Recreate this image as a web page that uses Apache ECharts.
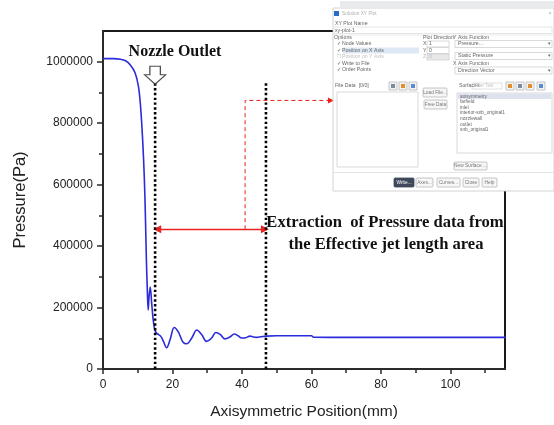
<!DOCTYPE html>
<html>
<head>
<meta charset="utf-8">
<style>
  html, body { margin: 0; padding: 0; background: #fff; }
  #chart { width: 554px; height: 425px; }
</style>
<script src="https://cdn.jsdelivr.net/npm/echarts@6/dist/echarts.min.js"></script>
</head>
<body>
<div id="chart"></div>
<script>
// Axial pressure profile along the jet axis (mm, Pa)
const positionMm = [0, 3, 5, 6.5, 7.8, 9.2, 10.2, 10.8, 11.4, 11.9, 12.2, 12.5, 12.75, 13.0, 13.25,
  13.6, 14.0, 14.4, 14.8, 15.3, 16.0, 16.6, 17.4, 18.3, 19.3, 20.5, 21.7, 23.0, 24.1, 25.5,
  27.0, 28.4, 29.8, 31.2, 32.5, 33.8, 35.1, 36.5, 37.8, 38.9, 39.9, 41.1, 42.3, 43.3, 44.2,
  45.5, 47, 50, 55, 60, 60.6, 70, 80, 90, 100, 110, 116];
const pressurePa = [1010000, 1010000, 1008000, 1003000, 990000, 965000, 920000, 856000, 748000, 619000, 500000, 350000, 260000, 192000, 235000,
  267000, 215000, 165000, 133000, 118000, 112000, 107000, 90000, 69000, 95000, 135000, 120000, 88000, 82000, 100000,
  127000, 112000, 90000, 100000, 119000, 112000, 98000, 104000, 114000, 108000, 101000, 102000, 107000, 104000, 103000,
  105000, 107000, 108000, 108000, 108000, 103500, 103000, 103000, 103000, 103000, 103000, 103000];

// Axis ticks
const xMajorTicks = [0, 20, 40, 60, 80, 100];
const xMinorTicks = [10, 30, 50, 70, 90, 110];
const yMajorTicks = [0, 200000, 400000, 600000, 800000, 1000000];
const yMinorTicks = [100000, 300000, 500000, 700000, 900000];
const xRange = [0, 115.7];
const yRange = [0, 1100000];

// Annotation positions (data units)
const nozzleOutletX = 15;
const jetEndX = 46.9;
const guideTopY = 930000;
const nozzleArrowY = 956000;
const spanArrowY = 455000;
const spanArrowX = [15.6, 46.6];
const calloutX = 40.9;
const calloutTopY = 874000;
const calloutEndX = 65.6;

const chart = echarts.init(document.getElementById('chart'));

const axisColor = '#2a2a2a';
const labelFont = { fontFamily: 'Liberation Sans', fontSize: 12, color: '#222' };

function valueAxis(dim, extra) {
  return Object.assign({
    type: 'value',
    min: dim === 'x' ? xRange[0] : yRange[0],
    max: dim === 'x' ? xRange[1] : yRange[1],
    splitLine: { show: false },
    axisLine: { show: true, lineStyle: { color: axisColor, width: 2 } }
  }, extra);
}

// Small dialog panel drawn with graphic primitives
const UI_FONT = 'Liberation Sans';
const ui = [];
function uRect(x, y, w, h, fill, stroke, extra) {
  ui.push(Object.assign({ type: 'rect', shape: { x, y, width: w, height: h },
    style: { fill: fill || 'none', stroke: stroke || null, lineWidth: 0.8 }, z: 100, silent: true }, extra || {}));
}
function uText(x, y, t, opts) {
  opts = opts || {};
  ui.push({ type: 'text', z: 101, silent: true,
    style: { text: t, x, y, fill: opts.color || '#666', font: (opts.weight || 'normal') + ' ' + (opts.size || 5.2) + 'px "' + UI_FONT + '"',
      align: opts.align || 'left', verticalAlign: 'middle' } });
}
function uLine(x1, y1, x2, y2, color) {
  ui.push({ type: 'line', z: 100, silent: true, shape: { x1, y1, x2, y2 }, style: { stroke: color || '#ddd', lineWidth: 0.8 } });
}
function uButton(x, y, w, h, t, dark) {
  uRect(x, y, w, h, dark ? '#3e4a5c' : '#f6f6f6', dark ? '#3e4a5c' : '#b8b8b8', { shape: { x, y, width: w, height: h, r: 1 } });
  uText(x + w / 2, y + h / 2, t, { align: 'center', color: dark ? '#fff' : '#777', size: 4.8 });
}
function uIcon(x, y, c) {
  uRect(x, y, 8, 8, '#f3f3f3', '#b8b8b8');
  uRect(x + 2, y + 2, 4, 4, c, null);
}
function uDrop(x, y, w, t) {
  uRect(x, y, w, 7, '#fff', '#cfcfcf');
  uText(x + 3, y + 3.5, t);
  uText(x + w - 3, y + 3.5, '▾', { align: 'center', size: 4.5 });
}

// window frame
uRect(340, 1, 214, 6, '#d6dae0', null, { style: { fill: '#d6dae0', opacity: 0.55 } });
uRect(333, 8, 221, 183, '#ffffff', '#c9c9c9');
uRect(334, 11, 5, 5, '#2b6cc4', null);
uText(342, 13.5, 'Solution XY Plot', { color: '#b0b0b0', size: 4.8 });
uText(550, 13.5, '×', { color: '#aaa', size: 5, align: 'center' });
uText(335, 24, 'XY Plot Name');
uRect(334, 27, 218, 6.5, '#fff', '#e0e0e0');
uText(335, 30.3, 'xy-plot-1');
uLine(333, 35, 554, 35, '#e4e4e4');

// options column
uText(334, 38, 'Options');
uRect(343, 47.5, 76, 6, '#dde8f5', null);
const optionRows = [['Node Values', true, 44], ['Position on X Axis', true, 50.5], ['Position on Y Axis', false, 57], ['Write to File', true, 63.5], ['Order Points', true, 70]];
optionRows.forEach(([t, on, y]) => {
  uText(337, y, on ? '✓' : '☐', { color: on ? '#555' : '#c8c8c8', size: 4.8 });
  uText(342, y, t, { color: on ? '#666' : '#c0c0c0' });
});

// plot direction
uText(423, 38, 'Plot Direction');
[['X', '1', 44, false], ['Y', '0', 50.5, false], ['Z', '0', 57, true]].forEach(([a, v, y, dis]) => {
  uText(423, y, a, { color: dis ? '#bbb' : '#666' });
  uRect(427, y - 3, 22, 6, dis ? '#e8e8e8' : '#fff', '#cfcfcf');
  uText(429, y, v, { color: dis ? '#bbb' : '#666' });
});

// axis functions
uText(453, 38, 'Y Axis Function');
uDrop(455, 40.5, 97, 'Pressure...');
uDrop(455, 52.5, 97, 'Static Pressure');
uText(453, 63.5, 'X Axis Function');
uDrop(455, 67, 97, 'Direction Vector');

// file data
uText(335, 86, 'File Data  [0/0]');
uIcon(389, 82, '#7a8aa0');
uIcon(399, 82, '#e09030');
uIcon(409, 82, '#5a8ad0');
uRect(337, 92, 81, 75, '#fff', '#cfcfcf');
uButton(423, 88, 24, 9, 'Load File...');
uButton(424, 100, 23, 9, 'Free Data');

// surfaces
uText(459, 86, 'Surfaces');
uRect(472, 83, 30, 6, '#fff', '#d8d8d8');
uText(474, 86, 'Filter Text', { color: '#c0c0c0', size: 4.5 });
uIcon(506, 82, '#e09030');
uIcon(516, 82, '#7a8aa0');
uIcon(526, 82, '#e09030');
uIcon(537, 82, '#5a8ad0');
uRect(457, 93, 95, 60, '#fff', '#cfcfcf');
uRect(458, 93.5, 93, 5.5, '#dde3ee', null);
const surfaceNames = ['axisymmetry', 'farfield', 'inlet', 'interior-snb_original1', 'nozzlewall', 'outlet', 'snb_original1'];
surfaceNames.forEach((t, i) => uText(460, 96.2 + i * 5.6, t, { size: 4.8 }));
uButton(454, 162, 33, 8, 'New Surface ...');

// bottom buttons
uLine(333, 172.5, 554, 172.5, '#dedede');
uButton(394, 178, 20, 9, 'Write...', true);
uButton(416, 178, 17, 9, 'Axes...');
uButton(437, 178, 23, 9, 'Curves...');
uButton(463, 178, 16, 9, 'Close');
uButton(482, 178, 15, 9, 'Help');

const serifBold = 'bold 16px "Liberation Serif"';
const noteFont = 'bold 16.6px "Liberation Serif"';
const annotations = [
  { type: 'text', z: 50, silent: true, style: { text: 'Nozzle Outlet', x: 175, y: 52, font: serifBold, fill: '#111', align: 'center', verticalAlign: 'middle' } },
  { type: 'text', z: 50, silent: true, style: { text: 'Extraction  of Pressure data from', x: 385, y: 223, font: noteFont, fill: '#111', align: 'center', verticalAlign: 'middle' } },
  { type: 'text', z: 50, silent: true, style: { text: 'the Effective jet length area', x: 386, y: 245, font: noteFont, fill: '#111', align: 'center', verticalAlign: 'middle' } }
];

const dotted = { color: '#000', width: 2.6, type: [2.4, 2.4] };

chart.setOption({
  animation: false,
  backgroundColor: '#fff',
  grid: { left: 103, right: 49, top: 31, bottom: 53, show: true, borderColor: '#1a1a1a', borderWidth: 2, backgroundColor: 'transparent' },
  xAxis: [
    valueAxis('x', {
      name: 'Axisymmetric Position(mm)', nameLocation: 'middle', nameGap: 35,
      nameTextStyle: { fontFamily: 'Liberation Sans', fontSize: 15.5, color: '#222' },
      axisTick: { show: true, inside: false, length: 5, customValues: xMajorTicks, lineStyle: { color: axisColor, width: 1.5 } },
      axisLabel: Object.assign({ margin: 10, customValues: xMajorTicks, formatter: v => String(v) }, labelFont)
    }),
    valueAxis('x', {
      gridIndex: 0, position: 'bottom',
      axisLine: { show: false },
      axisTick: { show: true, inside: false, length: 4, customValues: xMinorTicks, lineStyle: { color: axisColor, width: 1.5 } },
      axisLabel: { show: false }
    })
  ],
  yAxis: [
    valueAxis('y', {
      name: 'Pressure(Pa)', nameLocation: 'middle', nameGap: 74, nameRotate: 90,
      nameTextStyle: { fontFamily: 'Liberation Sans', fontSize: 16.5, color: '#222' },
      axisTick: { show: true, inside: false, length: 6, customValues: yMajorTicks, lineStyle: { color: axisColor, width: 1.5 } },
      axisLabel: Object.assign({ margin: 10, customValues: yMajorTicks, formatter: v => String(v) }, labelFont)
    }),
    valueAxis('y', {
      position: 'left', offset: 0,
      axisLine: { show: false },
      axisTick: { show: true, inside: false, length: 4, customValues: yMinorTicks, lineStyle: { color: axisColor, width: 1.5 } },
      axisLabel: { show: false }
    })
  ],
  series: [
    {
      name: 'Pressure', type: 'line', smooth: 0.35, symbol: 'none', z: 5,
      lineStyle: { color: '#2b2bdb', width: 1.6 },
      data: positionMm.map((x, i) => [x, pressurePa[i]])
    },
    {
      name: 'Nozzle outlet', type: 'line', symbol: 'none', z: 6, silent: true,
      lineStyle: dotted,
      data: [[nozzleOutletX, guideTopY], [nozzleOutletX, 0]]
    },
    {
      name: 'Jet end', type: 'line', symbol: 'none', z: 6, silent: true,
      lineStyle: dotted,
      data: [[jetEndX, guideTopY], [jetEndX, 0]]
    },
    {
      name: 'Outlet marker', type: 'scatter', z: 7, silent: true,
      symbol: 'path://M5,0 L15,0 L15,9 L20,9 L10,19 L0,9 L5,9 Z',
      symbolSize: [21, 18],
      itemStyle: { color: '#fff', borderColor: '#222', borderWidth: 1.2 },
      data: [[nozzleOutletX, nozzleArrowY]]
    },
    {
      name: 'Callout', type: 'line', symbol: 'none', z: 6, silent: true,
      lineStyle: { color: '#e8231f', width: 1, type: [4, 3] },
      data: [[calloutX, spanArrowY], [calloutX, calloutTopY], [calloutEndX, calloutTopY]],
      markLine: {
        silent: true, symbol: ['none', 'triangle'], symbolSize: 6,
        label: { show: false },
        lineStyle: { color: '#e8231f', width: 1, type: 'solid' },
        data: [[{ coord: [calloutEndX - 1, calloutTopY] }, { coord: [calloutEndX, calloutTopY] }]]
      }
    },
    {
      name: 'Span', type: 'line', symbol: 'none', z: 6, silent: true,
      data: [],
      markLine: {
        silent: true, symbol: ['triangle', 'triangle'], symbolSize: 8,
        label: { show: false },
        lineStyle: { color: '#e8231f', width: 1.3, type: 'solid' },
        data: [[{ coord: [spanArrowX[0], spanArrowY] }, { coord: [spanArrowX[1], spanArrowY] }]]
      }
    }
  ],
  graphic: annotations.concat(ui)
});
</script>
</body>
</html>
